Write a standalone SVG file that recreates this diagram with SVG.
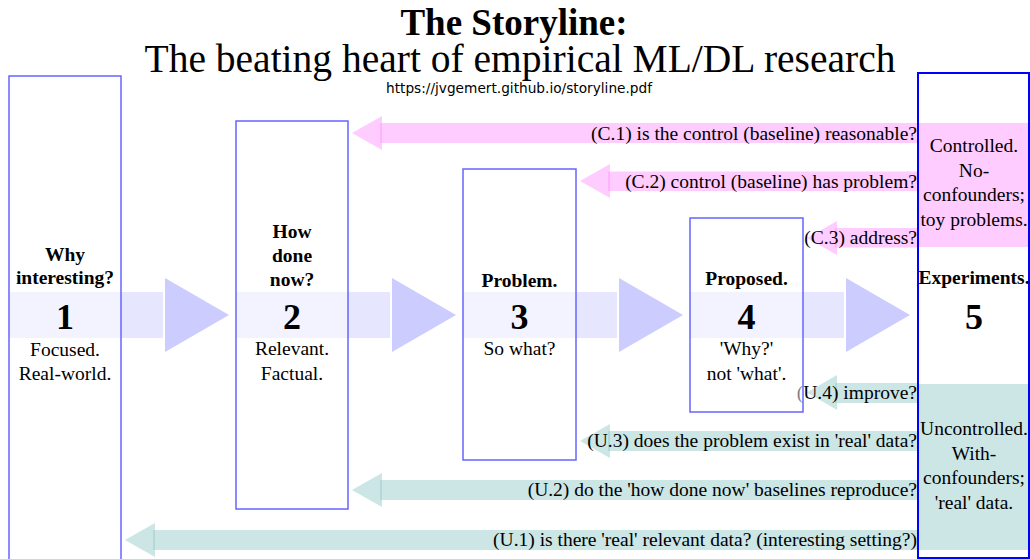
<svg xmlns="http://www.w3.org/2000/svg" width="1030" height="559" viewBox="0 0 1030 559">
<style>
  .serif { font-family: "Liberation Serif", "Times New Roman", serif; fill: #000; }
  .t { font-size: 19.5px; text-anchor: middle; }
  .h { font-size: 19.5px; font-weight: bold; text-anchor: middle; }
  .n { font-size: 36px; font-weight: bold; text-anchor: middle; }
  .lbl { font-size: 19.5px; text-anchor: end; }
  .box { fill: #ffffff; fill-opacity: 0.5; stroke: #6666ff; stroke-width: 1.5; }
  .box5 { fill: none; stroke: #0000ff; stroke-width: 2; }
  .band { fill: #e6e6ff; }
  .head { fill: #ccccff; }
  .pink { fill: #ff99ff; fill-opacity: 0.5; }
  .teal { fill: #99cccc; fill-opacity: 0.5; }
</style>

<g id="title">
  <text class="serif" x="514" y="35" font-size="37" font-weight="bold" text-anchor="middle">The Storyline:</text>
  <text class="serif" x="520" y="72" font-size="39.5" text-anchor="middle">The beating heart of empirical ML/DL research</text>
  <text x="519" y="93" font-family="DejaVu Sans, sans-serif" font-size="13.7" text-anchor="middle" fill="#000">https://jvgemert.github.io/storyline.pdf</text>
</g>

<g id="connectors">
  <!-- main flow -->
  <rect class="band" x="9" y="292" width="154" height="46"/>
  <polygon class="head" points="165,278 229,315 165,352"/>
  <rect class="band" x="236" y="292" width="154" height="46"/>
  <polygon class="head" points="392,278 456,315 392,352"/>
  <rect class="band" x="463" y="292" width="154" height="46"/>
  <polygon class="head" points="619,278 683,315 619,352"/>
  <rect class="band" x="690" y="292" width="154" height="46"/>
  <polygon class="head" points="846,278 910,315 846,352"/>

  <!-- controlled feedback -->
  <polygon class="pink" points="352,133 382,116 382,150"/>
  <rect class="pink" x="380" y="123" width="538" height="20"/>
  <polygon class="pink" points="580,181 610,164 610,198"/>
  <rect class="pink" x="608" y="171.5" width="310" height="19.5"/>
  <polygon class="pink" points="807,238 837,221 837,255"/>
  <rect class="pink" x="835" y="228" width="83" height="19.5"/>

  <!-- uncontrolled feedback -->
  <polygon class="teal" points="807,392.5 837,375 837,410"/>
  <rect class="teal" x="835" y="383" width="83" height="20"/>
  <polygon class="teal" points="580,441 610,424 610,458"/>
  <rect class="teal" x="608" y="431" width="310" height="20"/>
  <polygon class="teal" points="352,490 382,473 382,507"/>
  <rect class="teal" x="380" y="480" width="538" height="20"/>
  <polygon class="teal" points="125,540 155,523 155,557"/>
  <rect class="teal" x="153" y="530" width="765" height="20"/>

  <text class="serif lbl" x="917" y="140">(C.1) is the control (baseline) reasonable?</text>
  <text class="serif lbl" x="917" y="188">(C.2) control (baseline) has problem?</text>
  <text class="serif lbl" x="917" y="244">(C.3) address?</text>
  <text class="serif lbl" x="917" y="399">(U.4) improve?</text>
  <text class="serif lbl" x="917" y="447">(U.3) does the problem exist in 'real' data?</text>
  <text class="serif lbl" x="917" y="496">(U.2) do the 'how done now' baselines reproduce?</text>
  <text class="serif lbl" x="917" y="546">(U.1) is there 'real' relevant data? (interesting setting?)</text>
</g>

<g id="node1">
  <rect class="box" x="9" y="76" width="112" height="490"/>
  <text class="serif h" x="65" y="261">Why</text>
  <text class="serif h" x="65" y="284">interesting?</text>
  <text class="serif n" x="65" y="329">1</text>
  <text class="serif t" x="65" y="356">Focused.</text>
  <text class="serif t" x="65" y="380">Real-world.</text>
</g>

<g id="node2">
  <rect class="box" x="236" y="121" width="112" height="388"/>
  <text class="serif h" x="292" y="238">How</text>
  <text class="serif h" x="292" y="262">done</text>
  <text class="serif h" x="292" y="286">now?</text>
  <text class="serif n" x="292" y="329">2</text>
  <text class="serif t" x="292" y="355">Relevant.</text>
  <text class="serif t" x="292" y="380">Factual.</text>
</g>

<g id="node3">
  <rect class="box" x="463" y="169" width="113" height="291"/>
  <text class="serif h" x="519.5" y="287">Problem.</text>
  <text class="serif n" x="519.5" y="329">3</text>
  <text class="serif t" x="519.5" y="355">So what?</text>
</g>

<g id="node4">
  <rect class="box" x="690" y="218" width="113" height="194"/>
  <text class="serif h" x="746.5" y="285">Proposed.</text>
  <text class="serif n" x="746.5" y="329">4</text>
  <text class="serif t" x="746.5" y="355">'Why?'</text>
  <text class="serif t" x="746.5" y="380">not 'what'.</text>
</g>

<g id="node5">
  <rect x="918" y="123" width="111" height="124" fill="#ffccff"/>
  <rect x="918" y="384" width="111" height="166" fill="#cce6e6"/>
  <rect class="box5" x="918" y="73" width="111" height="485"/>
  <text class="serif t" x="974" y="152">Controlled.</text>
  <text class="serif t" x="974" y="177">No-</text>
  <text class="serif t" x="974" y="201">confounders;</text>
  <text class="serif t" x="974" y="226">toy problems.</text>
  <text class="serif h" x="974" y="284">Experiments.</text>
  <text class="serif n" x="974" y="329">5</text>
  <text class="serif t" x="974" y="435">Uncontrolled.</text>
  <text class="serif t" x="974" y="460">With-</text>
  <text class="serif t" x="974" y="484">confounders;</text>
  <text class="serif t" x="974" y="509">'real' data.</text>
</g>
</svg>
